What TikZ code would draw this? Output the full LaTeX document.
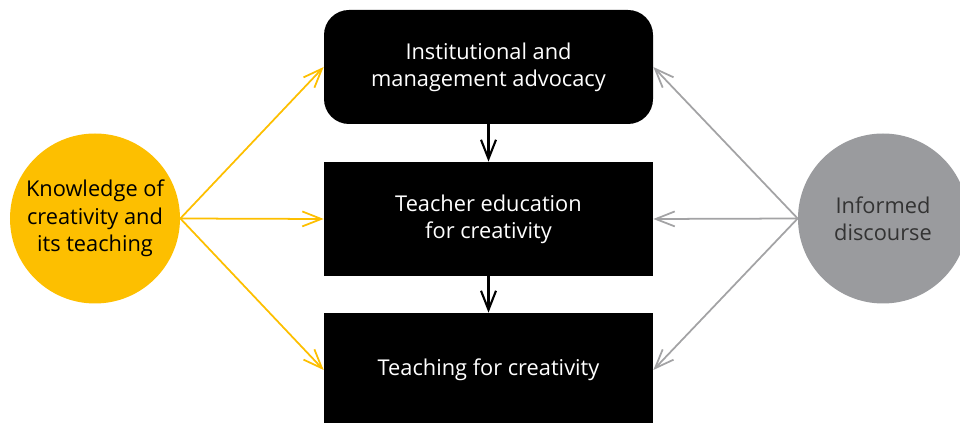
\documentclass[tikz,border=0pt]{standalone}
\usepackage{fontspec}
\setmainfont{Open Sans}
\usepackage{tikz}
\usetikzlibrary{arrows.meta}
\definecolor{knowyellow}{HTML}{FDBF00}
\definecolor{discgray}{HTML}{9A9B9E}
\definecolor{linegray}{HTML}{A3A3A5}
\begin{document}
\begin{tikzpicture}[>={Straight Barb[length=0.38cm,width=0.3cm]}]
        \tikzstyle{every node} = [font=\fontsize{12.4}{15.5}\selectfont, align=center]
        \tikzstyle{blackbox} = [rectangle, fill=black, text=white, minimum width=6.58cm, minimum height=2.28cm, inner sep=0pt]
        \tikzstyle{bubble} = [circle, minimum size=3.4cm, inner sep=0pt]
        \useasboundingbox (0,0) rectangle (19.2,8.46);

        \node[blackbox, rounded corners=0.5cm] (0) at (9.77,7.12) {Institutional and\\management advocacy};
        \node[blackbox] (1) at (9.77,4.08) {Teacher education\\for creativity};
        \node[blackbox] (2) at (9.77,1.06) {Teaching for creativity};
        \node[bubble, fill=knowyellow, text=black] (k) at (1.9,4.09) {Knowledge of\\creativity and\\its teaching};
        \node[bubble, fill=discgray, text=black!80] (d) at (17.66,4.09) {Informed\\discourse};

        \draw[->, line width=1.2pt] (0) -- (1);
        \draw[->, line width=1.2pt] (1) -- (2);
        \foreach \t in {0,1,2} {
            \draw[->, knowyellow, line width=1pt] (k.east) -- (\t.west);
            \draw[->, linegray, line width=1pt] (d.west) -- (\t.east);
        }
\end{tikzpicture}
\end{document}
